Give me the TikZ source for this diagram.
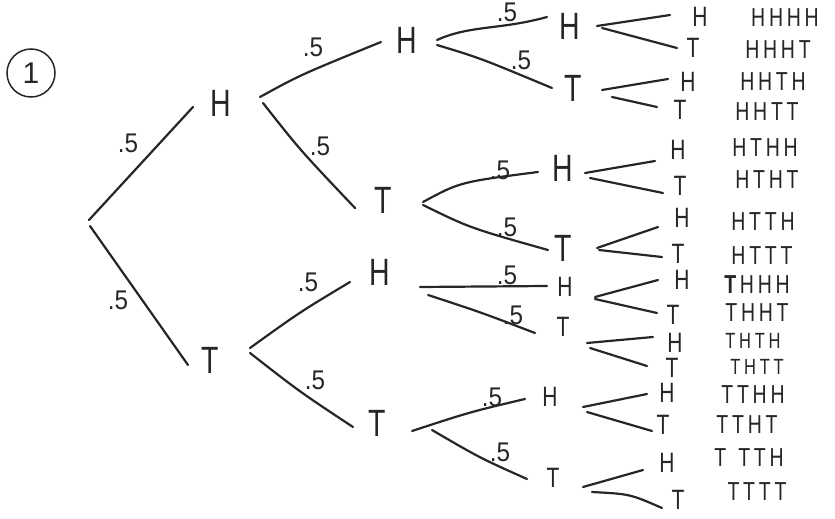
\documentclass[tikz,border=0pt]{standalone}
\usepackage{fontspec}
\setmainfont{Liberation Sans}
\newcommand{\gp}{\hspace{5pt}}
\begin{document}
\begin{tikzpicture}[x=1pt,y=-1pt,
  br/.style={draw=black!85,line width=2.2pt,line cap=round},
  lab/.style={font=\fontsize{27}{27}\selectfont,text=black!85,inner sep=0pt,xscale=0.9},
  big/.style={font=\fontsize{38}{38}\selectfont,text=black!85,inner sep=0pt,xscale=0.75},
  sml/.style={font=\fontsize{28}{28}\selectfont,text=black!85,inner sep=0pt,xscale=0.75},
  oc/.style={font=\fontsize{26}{26}\selectfont,text=black!85,inner sep=0pt,xscale=0.75}]
\useasboundingbox (0,0) rectangle (835,519);
% problem number
\node[circle,draw=black!85,line width=1.5pt,minimum size=48pt,inner sep=0pt,
  font=\fontsize{30}{30}\selectfont,text=black!85] (num) at (31,73) {1};
% level 1
\node[big] (H) at (221,103) {H};
\node[big] (T) at (210,360) {T};
\draw[br] (89,220) coordinate (r0) -- (193,107) coordinate (rH);
\draw[br] (90,226) coordinate (r1) -- (188,365) coordinate (rT);
\node[lab] (l1) at (128,143) {.5};
\node[lab] (l2) at (118,300) {.5};
% level 2
\node[big] (HH) at (407,40) {H};
\node[big] (HT) at (383,200) {T};
\node[big] (TH) at (380,272) {H};
\node[big] (TT) at (377,423) {T};
\draw[br] (260,97) coordinate (a0) .. controls (300,75) .. (381,42) coordinate (a1);
\draw[br] (263,103) coordinate (b0) .. controls (300,150) .. (355,208) coordinate (b1);
\draw[br] (250,348) coordinate (c0) .. controls (300,312) .. (350,282) coordinate (c1);
\draw[br] (250,353) coordinate (d0) .. controls (300,392) .. (353,427) coordinate (d1);
\node[lab] (l3) at (313,47) {.5};
\node[lab] (l4) at (320,146) {.5};
\node[lab] (l5) at (308,282) {.5};
\node[lab] (l6) at (315,380) {.5};
% level 3
\node[big] (HHH) at (570,26) {H};
\node[big] (HHT) at (573,88) {T};
\node[big] (HTH) at (563,168) {H};
\node[big] (HTT) at (563,248) {T};
\node[sml] (THH) at (565,287) {H};
\node[sml] (THT) at (563,327) {T};
\node[sml] (TTH) at (550,397) {H};
\node[sml] (TTT) at (553,478) {T};
\draw[br] (437,40) coordinate (e0) .. controls (470,25) and (500,30) .. (547,17) coordinate (e1);
\draw[br] (437,45) coordinate (f0) .. controls (480,58) .. (552,88) coordinate (f1);
\draw[br] (423,202) coordinate (g0) .. controls (460,182) .. (538,172) coordinate (g1);
\draw[br] (423,205) coordinate (h0) .. controls (470,228) .. (548,250) coordinate (h1);
\draw[br] (420,287) coordinate (i0) -- (547,286) coordinate (i1);
\draw[br] (428,295) coordinate (j0) .. controls (480,312) .. (535,333) coordinate (j1);
\draw[br] (412,431) coordinate (k0) .. controls (470,412) .. (525,399) coordinate (k1);
\draw[br] (432,430) coordinate (m0) .. controls (480,458) .. (527,479) coordinate (m1);
\node[lab] (l7) at (507,12) {.5};
\node[lab] (l8) at (521,60) {.5};
\node[lab] (l9) at (500,170) {.5};
\node[lab] (l10) at (507,227) {.5};
\node[lab] (l11) at (507,275) {.5};
\node[lab] (l12) at (513,315) {.5};
\node[lab] (l13) at (492,397) {.5};
\node[lab] (l14) at (500,452) {.5};
% level 4 letters
\node[sml] (q1) at (700,17) {H};
\node[sml] (q2) at (693,48) {T};
\node[sml] (q3) at (688,82) {H};
\node[sml] (q4) at (680,110) {T};
\node[sml] (q5) at (678,150) {H};
\node[sml] (q6) at (680,186) {T};
\node[sml] (q7) at (682,218) {H};
\node[sml] (q8) at (678,254) {T};
\node[sml] (q9) at (682,280) {H};
\node[sml] (q10) at (673,315) {T};
\node[sml] (q11) at (675,343) {H};
\node[sml] (q12) at (672,368) {T};
\node[sml] (q13) at (667,393) {H};
\node[sml] (q14) at (663,425) {T};
\node[sml] (q15) at (667,463) {H};
\node[sml] (q16) at (678,500) {T};
% level 4 branches
\draw[br] (597,26) coordinate (n1) -- (670,15) coordinate (p1);
\draw[br] (602,28) coordinate (n2) -- (677,48) coordinate (p2);
\draw[br] (602,90) coordinate (n3) -- (668,79) coordinate (p3);
\draw[br] (612,97) coordinate (n4) -- (657,107) coordinate (p4);
\draw[br] (585,173) coordinate (n5) -- (655,161) coordinate (p5);
\draw[br] (590,178) coordinate (n6) -- (663,193) coordinate (p6);
\draw[br] (597,248) coordinate (n7) -- (658,227) coordinate (p7);
\draw[br] (599,250) coordinate (n8) -- (662,257) coordinate (p8);
\draw[br] (595,297) coordinate (n9) -- (658,280) coordinate (p9);
\draw[br] (595,299) coordinate (n10) -- (657,313) coordinate (p10);
\draw[br] (587,343) coordinate (n11) -- (653,337) coordinate (p11);
\draw[br] (590,348) coordinate (n12) -- (647,366) coordinate (p12);
\draw[br] (583,407) coordinate (n13) -- (647,394) coordinate (p13);
\draw[br] (587,412) coordinate (n14) -- (652,431) coordinate (p14);
\draw[br] (583,487) coordinate (n15) -- (643,470) coordinate (p15);
\draw[br] (592,492) coordinate (n16) .. controls (630,494) .. (662,508) coordinate (p16);
% outcomes
\node[oc] (o1) at (785,18) {H\gp H\gp H\gp H};
\node[oc] (o2) at (778,50) {H\gp H\gp H\gp T};
\node[oc] (o3) at (773,82) {H\gp H\gp T\gp H};
\node[oc] (o4) at (767,112) {H\gp H\gp T\gp T};
\node[oc] (o5) at (765,148) {H\gp T\gp H\gp H};
\node[oc] (o6) at (767,180) {H\gp T\gp H\gp T};
\node[oc] (o7) at (763,222) {H\gp T\gp T\gp H};
\node[oc] (o8) at (762,256) {H\gp T\gp T\gp T};
\node[oc] (o9) at (757,285) {\textbf{T}\gp H\gp H\gp H};
\node[oc] (o10) at (757,313) {T\gp H\gp H\gp T};
\node[oc,font=\fontsize{22}{22}\selectfont] (o11) at (753,341) {T\gp H\gp T\gp H};
\node[oc,font=\fontsize{22}{22}\selectfont] (o12) at (757,367) {T\gp H\gp T\gp T};
\node[oc] (o13) at (753,395) {T\gp T\gp H\gp H};
\node[oc] (o14) at (747,425) {T\gp T\gp H\gp T};
\node[oc] (o15) at (749,458) {T\hspace{16pt}T\gp T\gp H};
\node[oc] (o16) at (757,492) {T\gp T\gp T\gp T};
\end{tikzpicture}
\end{document}
